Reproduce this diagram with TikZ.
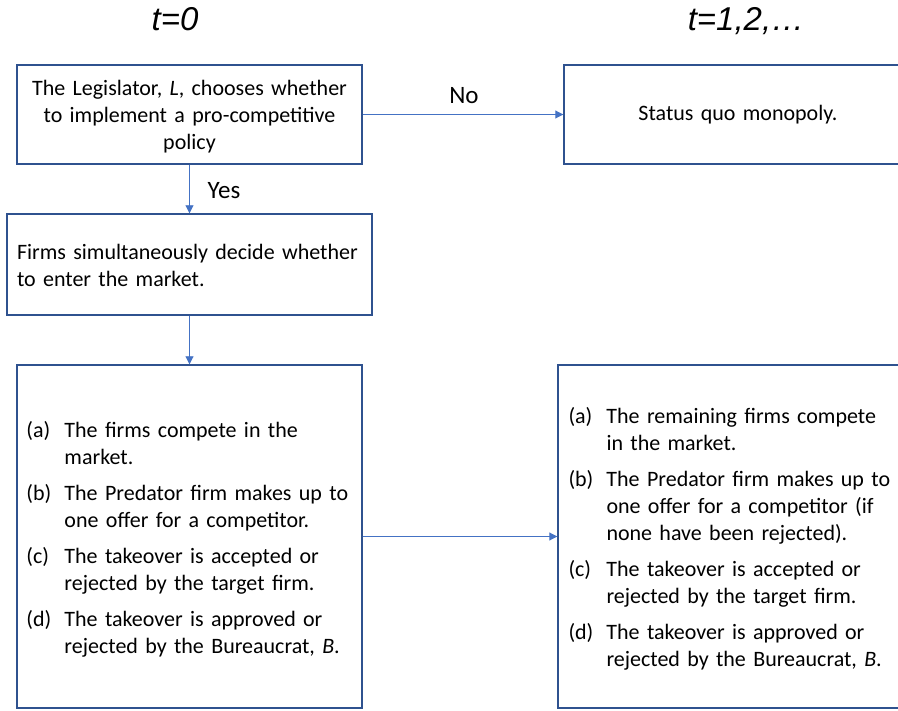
\documentclass[tikz,border=0pt]{standalone}
\usepackage{fontspec}
\setmainfont{Carlito}
\newfontfamily\headfont{Liberation Sans}
\usetikzlibrary{arrows.meta}
\definecolor{boxblue}{HTML}{2F528F}
\definecolor{arrblue}{HTML}{4472C4}
\begin{document}
\begin{tikzpicture}[x=1pt,y=-1pt,
  every node/.style={font=\fontsize{22}{27}\selectfont},
  box/.style={draw=boxblue, line width=1.4pt, inner sep=0pt},
  txt/.style={inner sep=0pt},
  conn/.style={draw=arrblue, line width=0.9pt, -{Triangle[length=8pt,width=8pt]}},
  head/.style={font=\headfont\itshape\fontsize{33}{37}\selectfont},
  lbl/.style={font=\fontsize{25}{29}\selectfont, inner sep=0pt}]
\useasboundingbox (0,0) rectangle (898,711);

\node[head] (h0) at (175,19) {t=0};
\node[head] (h1) at (746,21) {t=1,2,\ldots};

% boxes
\node[box, minimum width=345pt, minimum height=99pt] (leg) at (189.5,114.5) {};
\node[box, minimum width=346pt, minimum height=99pt] (sq) at (737,114.5) {};
\node[box, minimum width=365pt, minimum height=101pt] (firms) at (189.5,264.5) {};
\node[box, minimum width=345pt, minimum height=343pt] (t0) at (189.5,536.5) {};
\node[box, minimum width=349pt, minimum height=343pt] (t1) at (732.5,536.5) {};

% texts
\node[txt, text width=325pt, align=center] (legtxt) at ([yshift=-2pt]leg.center)
  {The Legislator, \textit{L}, chooses whether\\to implement a pro-competitive\\policy};
\node[txt, text width=300pt, align=center] (sqtxt) at ([xshift=1pt]sq.center) {Status quo monopoly.};
\node[txt, text width=345pt, align=left] (firmstxt) at ([yshift=-1pt]firms.center)
  {Firms simultaneously decide whether\\to enter the market.};
\node[txt, text width=325pt, align=left, anchor=west] (t0txt) at ([xshift=10pt,yshift=-4pt]t0.west)
  {\begin{tabular}{@{}p{38pt}@{}l@{}}
  (a) & The firms compete in the\\
      & market.\\[9pt]
  (b) & The Predator firm makes up to\\
      & one offer for a competitor.\\[9pt]
  (c) & The takeover is accepted or\\
      & rejected by the target firm.\\[9pt]
  (d) & The takeover is approved or\\
      & rejected by the Bureaucrat, \textit{B}.
  \end{tabular}};
\node[txt, text width=327pt, align=left, anchor=west] (t1txt) at ([xshift=11pt,yshift=-3.5pt]t1.west)
  {\begin{tabular}{@{}p{38pt}@{}l@{}}
  (a) & The remaining firms compete\\
      & in the market.\\[9pt]
  (b) & The Predator firm makes up to\\
      & one offer for a competitor (if\\
      & none have been rejected).\\[9pt]
  (c) & The takeover is accepted or\\
      & rejected by the target firm.\\[9pt]
  (d) & The takeover is approved or\\
      & rejected by the Bureaucrat, \textit{B}.
  \end{tabular}};

\draw[conn] (leg.south) -- (firms.north);
\draw[conn] (leg.east) -- (sq.west);
\draw[conn] (firms.south) -- (t0.north);
\draw[conn] (t0.east) -- (t1.west);

\node[lbl] (yes) at (224,191) {Yes};
\node[lbl] (no) at (464,96) {No};
\end{tikzpicture}
\end{document}
